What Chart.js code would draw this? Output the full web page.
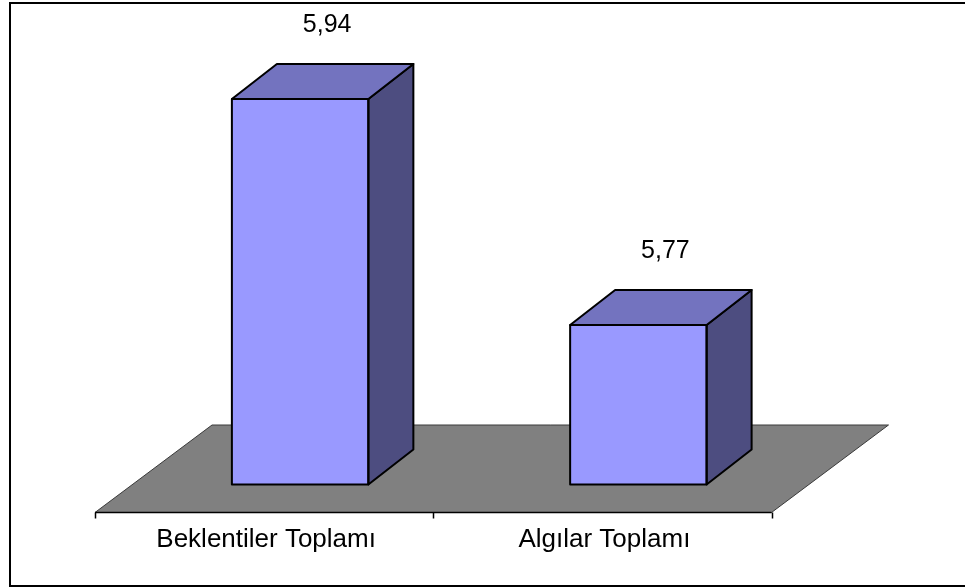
<!DOCTYPE html>
<html>
<head>
<meta charset="utf-8">
<style>
  html, body { margin: 0; padding: 0; background: #ffffff; }
  #wrap { width: 965px; height: 588px; }
</style>
<script src="https://cdn.jsdelivr.net/npm/chart.js@4/dist/chart.umd.min.js"></script>
</head>
<body>
<div id="wrap"><canvas id="chart" width="965" height="588"></canvas></div>
<script>
// Category names and their average scores
const categories = ['Beklentiler Toplamı', 'Algılar Toplamı'];
const scores = [5.94, 5.77];
// Value range of the vertical axis (axis itself is not drawn)
const axisMin = 5.65;
const axisMax = 6.0;

const FONT = '"Liberation Sans", Arial, sans-serif';
const FRONT = '#9999FF';
const TOP = '#7373BF';
const SIDE = '#4D4D80';
const FLOOR = '#808080';

// Bar depth (oblique projection)
const DEPTH_X = 45, DEPTH_Y = 35;

const fmt = v => v.toFixed(2).replace('.', ',');

const pseudo3d = {
  id: 'pseudo3d',
  beforeDraw(chart) {
    const ctx = chart.ctx;
    ctx.save();
    ctx.fillStyle = '#ffffff';
    ctx.fillRect(0, 0, chart.width, chart.height);
    ctx.restore();
  },
  beforeDatasetsDraw(chart) {
    const { ctx, chartArea: a } = chart;
    const xs = chart.scales.x;
    // floor plane
    const fy = a.bottom + 28, by = a.bottom - 59.5;
    const fl = a.left - 36, fr = a.right - 36;
    const bl = a.left + 81, br = a.right + 81;
    ctx.save();
    ctx.beginPath();
    ctx.moveTo(fl, fy); ctx.lineTo(fr, fy); ctx.lineTo(br, by); ctx.lineTo(bl, by);
    ctx.closePath();
    ctx.fillStyle = FLOOR;
    ctx.fill();
    ctx.strokeStyle = '#3a3a3a';
    ctx.lineWidth = 1;
    ctx.stroke();
    // category axis line and tick marks
    ctx.strokeStyle = '#000000';
    ctx.lineWidth = 1.5;
    ctx.beginPath();
    ctx.moveTo(fl, fy); ctx.lineTo(fr, fy);
    const step = (fr - fl) / categories.length;
    for (let i = 0; i <= categories.length; i++) {
      const tx = Math.round(fl + i * step) + 0.5;
      ctx.moveTo(tx, fy); ctx.lineTo(tx, fy + 6);
    }
    ctx.stroke();
    // category labels, placed under the front edge of the floor
    ctx.fillStyle = '#000000';
    ctx.font = '26px ' + FONT;
    ctx.textAlign = 'center';
    ctx.textBaseline = 'alphabetic';
    categories.forEach((c, i) => {
      const cx = xs.getPixelForValue(i) - 34;
      ctx.fillText(c, cx, fy + 34);
    });
    ctx.restore();
  },
  afterDatasetsDraw(chart) {
    const ctx = chart.ctx;
    const meta = chart.getDatasetMeta(0);
    const b = chart.scales.y.getPixelForValue(axisMin);
    ctx.save();
    ctx.lineWidth = 2;
    ctx.lineJoin = 'round';
    ctx.strokeStyle = '#000000';
    meta.data.forEach((bar, i) => {
      const p = bar.getProps(['x', 'y', 'width'], true);
      const l = p.x - p.width / 2, r = p.x + p.width / 2;
      const t = p.y;
      // side face
      ctx.beginPath();
      ctx.moveTo(r, t); ctx.lineTo(r + DEPTH_X, t - DEPTH_Y);
      ctx.lineTo(r + DEPTH_X, b - DEPTH_Y); ctx.lineTo(r, b);
      ctx.closePath();
      ctx.fillStyle = SIDE; ctx.fill(); ctx.stroke();
      // top face
      ctx.beginPath();
      ctx.moveTo(l, t); ctx.lineTo(r, t);
      ctx.lineTo(r + DEPTH_X, t - DEPTH_Y); ctx.lineTo(l + DEPTH_X, t - DEPTH_Y);
      ctx.closePath();
      ctx.fillStyle = TOP; ctx.fill(); ctx.stroke();
      // front outline
      ctx.strokeRect(l, t, r - l, b - t);
      // value label
      ctx.fillStyle = '#000000';
      ctx.font = '25px ' + FONT;
      ctx.textAlign = 'center';
      ctx.textBaseline = 'alphabetic';
      ctx.fillText(fmt(scores[i]), p.x + 27, t - 67);
    });
    ctx.restore();
  },
  afterDraw(chart) {
    const ctx = chart.ctx;
    ctx.save();
    ctx.strokeStyle = '#000000';
    ctx.lineWidth = 2;
    ctx.strokeRect(10, 3, 960, 583);
    ctx.restore();
  }
};

new Chart(document.getElementById('chart'), {
  type: 'bar',
  data: {
    labels: categories,
    datasets: [{
      data: scores,
      base: axisMin,
      backgroundColor: FRONT,
      borderWidth: 0,
      barPercentage: 0.4035,
      categoryPercentage: 1.0
    }]
  },
  options: {
    responsive: false,
    animation: false,
    events: [],
    layout: { padding: { left: 131, right: 157.5, top: 19.2, bottom: 103.5 } },
    plugins: { legend: { display: false }, tooltip: { enabled: false } },
    scales: {
      x: { display: false },
      y: { display: false, min: axisMin, max: axisMax }
    }
  },
  plugins: [pseudo3d]
});
</script>
</body>
</html>
